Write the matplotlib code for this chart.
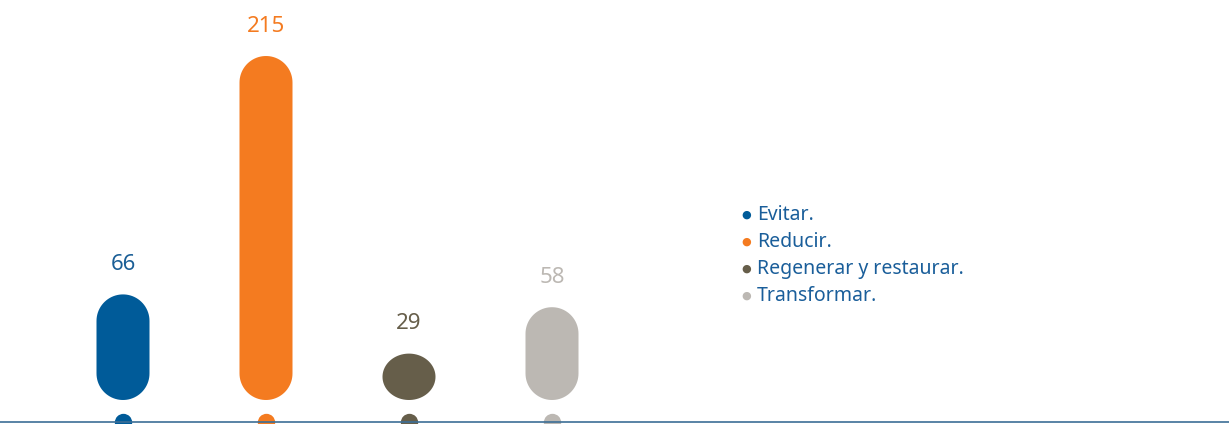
import numpy as np
import matplotlib.pyplot as plt
from matplotlib.patches import Polygon

categories = ["Evitar.", "Reducir.", "Regenerar y restaurar.", "Transformar."]
values = [66, 215, 29, 58]
colors = ["#005b99", "#f47b20", "#665e4a", "#bcb8b3"]
label_colors = ["#1a5e96", "#f47b20", "#665e4a", "#bcb8b3"]

W, H, DPI = 1229, 424, 100
fig = plt.figure(figsize=(W / DPI, H / DPI), dpi=DPI)
ax = fig.add_axes([0, 0, 1, 1])
ax.axis("off")

# pixel scales
px_x = 143.0   # pixels per category
px_y = 1.6     # pixels per unit value
x0_px, y0_px = 123, 24
ax.set_xlim(-x0_px / px_x, (W - x0_px) / px_x)
ax.set_ylim(-y0_px / px_y, (H - y0_px) / px_y)

bar_w_px = 53
rx = bar_w_px / px_x / 2
ry = (bar_w_px / 2) / px_y   # cap radius in value units


def capsule(xc, v):
    r = min(ry, v / 2)
    t1 = np.linspace(0, np.pi, 40)
    t2 = np.linspace(np.pi, 2 * np.pi, 40)
    top = np.column_stack([xc + rx * np.cos(t1), v - r + r * np.sin(t1)])
    bot = np.column_stack([xc + rx * np.cos(t2), r + r * np.sin(t2)])
    return np.vstack([top, bot])


for i, (v, c) in enumerate(zip(values, colors)):
    ax.add_patch(Polygon(capsule(i, v), closed=True, fc=c, ec="none"))
    ax.text(i, v + 30 / px_y, str(v), ha="center", va="center",
            fontsize=16, color=label_colors[i], family="Noto Sans")
    # small dot on baseline
    ax.scatter([i], [-22 / px_y], s=12.5 ** 2, color=c, zorder=2,
               clip_on=False, linewidths=0)

ax.axhline(-22 / px_y, color="#3c6e96", lw=1.2, zorder=3)

# legend
for j, (lab, c) in enumerate(zip(categories, colors)):
    yy = 1 - (215 + 27 * j) / H
    fig.text(746 / W, yy, "\u25CF", color=c, fontsize=8, ha="center", va="center", family="DejaVu Sans")
    fig.text(757 / W, yy, lab, color="#1a5e9a", fontsize=14, ha="left", va="center", family="Noto Sans")

fig.savefig("out.png", dpi=DPI)
